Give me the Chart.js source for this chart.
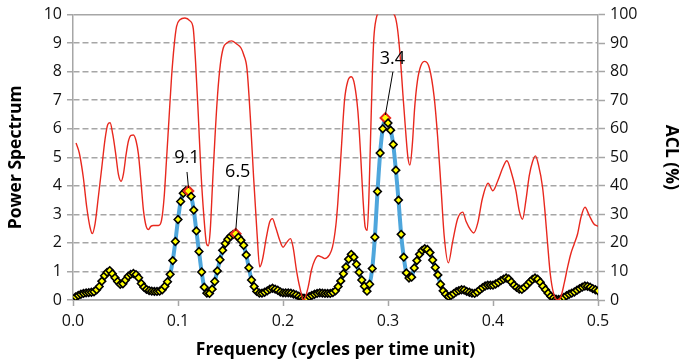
<!DOCTYPE html>
<html>
<head>
<meta charset="utf-8">
<script src="https://cdn.jsdelivr.net/npm/chart.js@4.4.1/dist/chart.umd.min.js"></script>
<style>
  html, body { margin: 0; padding: 0; background: #fff; }
  #wrap { width: 681px; height: 363px; }
</style>
</head>
<body>
<div id="wrap"><canvas id="spectrumChart" width="681" height="363"></canvas></div>
<script>
// Espectro de potência: um valor por frequência, passo de 0.0025 (1ª frequência = 0.0025)
const freqStep = 0.0025;
const powerSpectrum = [
  0.11, 0.16, 0.20, 0.23, 0.25, 0.26, 0.27, 0.29, 0.36, 0.47,
  0.66, 0.85, 0.97, 1.03, 0.92, 0.78, 0.65, 0.55, 0.57, 0.70,
  0.83, 0.90, 0.93, 0.89, 0.78, 0.58, 0.45, 0.37, 0.33, 0.31,
  0.30, 0.30, 0.31, 0.36, 0.48, 0.64, 0.90, 1.38, 2.05, 2.82,
  3.45, 3.74, 3.83, 3.82, 3.63, 3.15, 2.42, 1.70, 0.98, 0.45,
  0.24, 0.23, 0.38, 0.65, 1.02, 1.41, 1.74, 1.98, 2.13, 2.23,
  2.30, 2.32, 2.20, 2.09, 1.92, 1.58, 1.13, 0.70, 0.47, 0.30,
  0.24, 0.24, 0.27, 0.32, 0.38, 0.41, 0.38, 0.34, 0.28, 0.25,
  0.25, 0.25, 0.24, 0.21, 0.18, 0.13, 0.09, 0.06, 0.06, 0.12,
  0.16, 0.20, 0.23, 0.25, 0.24, 0.23, 0.23, 0.23, 0.26, 0.32,
  0.47, 0.67, 0.92, 1.16, 1.43, 1.60, 1.50, 1.25, 0.97, 0.70,
  0.48, 0.31, 0.55, 1.10, 2.20, 3.80, 5.15, 6.00, 6.38, 6.20,
  5.95, 5.45, 4.55, 3.50, 2.30, 1.50, 0.95, 0.77, 0.80, 1.12,
  1.38, 1.60, 1.74, 1.80, 1.77, 1.66, 1.40, 1.14, 0.88, 0.55,
  0.32, 0.20, 0.12, 0.16, 0.22, 0.29, 0.33, 0.36, 0.35, 0.30,
  0.27, 0.24, 0.23, 0.28, 0.36, 0.43, 0.49, 0.52, 0.52, 0.52,
  0.56, 0.61, 0.68, 0.73, 0.77, 0.74, 0.63, 0.52, 0.44, 0.38,
  0.37, 0.44, 0.53, 0.63, 0.72, 0.77, 0.73, 0.62, 0.48, 0.36,
  0.24, 0.13, 0.07, 0.03, 0.02, 0.04, 0.09, 0.15, 0.20, 0.24,
  0.28, 0.34, 0.40, 0.45, 0.49, 0.48, 0.45, 0.40, 0.36, 0.32
];

const aclFreq = [
  0.0029, 0.0060, 0.0098, 0.0131, 0.0162, 0.0184, 0.0210, 0.0241, 0.0274, 0.0305,
  0.0331, 0.0353, 0.0379, 0.0407, 0.0432, 0.0458, 0.0480, 0.0506, 0.0528, 0.0553,
  0.0575, 0.0601, 0.0623, 0.0649, 0.0671, 0.0697, 0.0719, 0.0741, 0.0766, 0.0814,
  0.0843, 0.0868, 0.0890, 0.0913, 0.0938, 0.0964, 0.0986, 0.1018, 0.1066, 0.1114,
  0.1145, 0.1167, 0.1193, 0.1218, 0.1247, 0.1272, 0.1288, 0.1307, 0.1329, 0.1352,
  0.1377, 0.1403, 0.1431, 0.1463, 0.1510, 0.1558, 0.1600, 0.1625, 0.1657, 0.1689,
  0.1720, 0.1753, 0.1778, 0.1803, 0.1842, 0.1873, 0.1899, 0.1930, 0.1968, 0.2001,
  0.2032, 0.2071, 0.2096, 0.2128, 0.2159, 0.2197, 0.2240, 0.2271, 0.2302, 0.2335,
  0.2366, 0.2398, 0.2440, 0.2471, 0.2503, 0.2522, 0.2554, 0.2586, 0.2617, 0.2650,
  0.2681, 0.2713, 0.2739, 0.2761, 0.2783, 0.2802, 0.2818, 0.2834, 0.2850, 0.2865,
  0.2888, 0.2910, 0.2975, 0.3047, 0.3073, 0.3094, 0.3120, 0.3142, 0.3168, 0.3190,
  0.3209, 0.3232, 0.3254, 0.3280, 0.3311, 0.3350, 0.3394, 0.3440, 0.3473, 0.3504,
  0.3535, 0.3575, 0.3615, 0.3663, 0.3712, 0.3743, 0.3788, 0.3817, 0.3855, 0.3898,
  0.3953, 0.3998, 0.4046, 0.4094, 0.4132, 0.4172, 0.4218, 0.4249, 0.4281, 0.4313,
  0.4345, 0.4377, 0.4404, 0.4432, 0.4472, 0.4494, 0.4520, 0.4545, 0.4577, 0.4615,
  0.4647, 0.4678, 0.4711, 0.4742, 0.4774, 0.4806, 0.4838, 0.4876, 0.4917, 0.4959,
  0.5000
];
const aclPct = [
  55.0, 51.5, 43.0, 32.5, 25.5, 23.3, 26.7, 36.0, 46.4, 56.3,
  61.5, 62.1, 58.0, 51.1, 44.1, 41.6, 44.1, 51.1, 55.7, 57.7,
  57.8, 55.7, 51.1, 40.7, 31.4, 25.8, 24.7, 25.8, 26.1, 26.1,
  27.9, 36.0, 48.8, 62.7, 77.8, 89.4, 95.8, 98.2, 98.8, 97.8,
  95.2, 83.6, 65.0, 45.3, 29.0, 19.7, 19.0, 24.4, 40.7, 56.9,
  72.0, 82.5, 88.3, 90.0, 90.8, 89.7, 88.3, 86.0, 81.0, 63.9,
  43.0, 23.2, 11.6, 13.9, 22.0, 27.3, 28.5, 25.5, 21.0, 18.5,
  20.0, 21.5, 18.5, 10.5, 4.6, 0.0, 4.6, 10.5, 13.9, 15.5,
  15.1, 14.5, 15.7, 18.5, 26.0, 34.0, 52.0, 70.0, 76.7, 78.2,
  75.5, 66.2, 51.1, 36.0, 25.5, 24.4, 36.0, 56.9, 77.8, 91.7,
  98.7, 100.5, 101.0, 100.5, 98.7, 94.0, 83.6, 72.0, 59.2, 49.9,
  47.3, 54.6, 67.4, 76.7, 81.9, 83.6, 81.3, 71.0, 57.0, 40.0,
  22.5, 13.0, 20.3, 28.5, 30.8, 27.6, 24.5, 23.5, 27.0, 35.4,
  40.9, 38.3, 41.8, 46.4, 48.8, 45.0, 38.3, 31.4, 28.3, 34.8,
  43.5, 48.5, 50.5, 47.5, 39.5, 31.4, 19.7, 9.3, 2.3, 0.0,
  1.2, 5.8, 11.6, 16.3, 19.7, 23.2, 29.0, 32.5, 29.6, 26.7,
  25.8
];

// picos anotados (índice no espectro) e período correspondente
const peakIndex = [43, 61, 118];
const peakLabels = ['9.1', '6.5', '3.4'];

// marcas dos eixos
const xTicks = [0, 0.1, 0.2, 0.3, 0.4, 0.5];
const powerTicks = [0, 1, 2, 3, 4, 5, 6, 7, 8, 9, 10];
const aclTicks = [0, 10, 20, 30, 40, 50, 60, 70, 80, 90, 100];

// posição do texto / linha de chamada em relação ao ponto do pico (px)
const noteOffsets = [
  { tx: -1.5, ty: -33, lx: -1.5, ly: -19 },
  { tx: 2, ty: -62, lx: 3.5, ly: -48 },
  { tx: 7, ty: -59, lx: 7.5, ly: -46 }
];

const spectrumPoints = powerSpectrum.map((v, i) => ({ x: +(freqStep * (i + 1)).toFixed(4), y: v }));
const aclPoints = aclPct.map((v, i) => ({ x: aclFreq[i], y: v }));

const gridGray = '#a6a6a6';
const tickFont = { family: '"Open Sans", sans-serif', size: 16 };
const titleFont = { family: '"Open Sans", sans-serif', size: 17.5, weight: 'bold' };

const peakNotes = {
    id: 'peakNotes',
    afterDatasetsDraw(chart) {
        const meta = chart.getDatasetMeta(1);
        const ctx = chart.ctx;
        ctx.save();
        ctx.font = '18px "Open Sans", sans-serif';
        ctx.fillStyle = '#000';
        ctx.strokeStyle = '#000';
        ctx.lineWidth = 1;
        ctx.textAlign = 'center';
        ctx.textBaseline = 'middle';
        peakIndex.forEach((idx, k) => {
            const pt = meta.data[idx];
            const off = noteOffsets[k];
            ctx.beginPath();
            ctx.moveTo(pt.x + off.lx, pt.y + off.ly);
            ctx.lineTo(pt.x, pt.y - 3);
            ctx.stroke();
            ctx.fillText(peakLabels[k], pt.x + off.tx, pt.y + off.ty);
        });
        ctx.restore();
    }
};

const ctx = document.getElementById('spectrumChart').getContext('2d');
new Chart(ctx, {
    type: 'line',
    data: {
        datasets: [
            {
                label: 'ACL (%)',
                data: aclPoints,
                yAxisID: 'y1',
                borderColor: '#e8281e',
                borderWidth: 1.4,
                pointRadius: 0,
                cubicInterpolationMode: 'monotone',
                order: 0
            },
            {
                label: 'Power Spectrum',
                data: spectrumPoints,
                yAxisID: 'y',
                borderColor: '#4ea6dc',
                borderWidth: 4,
                tension: 0.2,
                pointStyle: 'rectRot',
                pointRadius: c => peakIndex.includes(c.dataIndex) ? 4.8 : 3.8,
                pointBackgroundColor: '#ffff00',
                pointBorderColor: c => peakIndex.includes(c.dataIndex) ? '#e8281e' : '#000',
                pointBorderWidth: c => peakIndex.includes(c.dataIndex) ? 2 : 1.6,
                order: 1
            }
        ]
    },
    options: {
        responsive: false,
        animation: false,
        layout: { padding: { top: 13, left: 0, right: 0, bottom: 0 } },
        plugins: {
            legend: { display: false },
            tooltip: { enabled: false }
        },
        scales: {
            x: {
                type: 'linear',
                min: 0,
                max: 0.5,
                afterBuildTicks: s => { s.ticks = xTicks.map(v => ({ value: v })); },
                afterFit: s => { s.height = 63; },
                ticks: {
                    font: tickFont,
                    color: '#111',
                    padding: 6,
                    callback: v => v.toFixed(1)
                },
                grid: {
                    drawOnChartArea: false,
                    drawTicks: true,
                    tickLength: 6,
                    tickColor: gridGray,
                    tickWidth: 1.5
                },
                border: { color: gridGray, width: 1.5 },
                title: {
                    display: true,
                    text: 'Frequency (cycles per time unit)',
                    font: titleFont,
                    color: '#000',
                    padding: { top: 0, bottom: 2 }
                }
            },
            y: {
                position: 'left',
                min: 0,
                max: 10,
                afterBuildTicks: s => { s.ticks = powerTicks.map(v => ({ value: v })); },
                afterFit: s => { s.width = 73; },
                ticks: { font: tickFont, color: '#111', padding: 5 },
                grid: {
                    color: gridGray,
                    lineWidth: 1.5,
                    tickLength: 6,
                    tickColor: gridGray,
                    tickBorderDash: []
                },
                border: {
                    color: gridGray,
                    width: 1.5,
                    dash: c => (c.tick && (c.tick.value === 10 || c.tick.value === 0)) ? [] : [6, 3]
                },
                title: {
                    display: true,
                    text: 'Power Spectrum',
                    font: titleFont,
                    color: '#000',
                    padding: { top: 6, bottom: 0 }
                }
            },
            y1: {
                position: 'right',
                min: 0,
                max: 100,
                afterBuildTicks: s => { s.ticks = aclTicks.map(v => ({ value: v })); },
                afterFit: s => { s.width = 83; },
                ticks: { font: tickFont, color: '#111', padding: 5 },
                grid: {
                    drawOnChartArea: false,
                    tickLength: 7,
                    tickColor: gridGray,
                    tickWidth: 1.5
                },
                border: { color: gridGray, width: 1.5 },
                title: {
                    display: true,
                    text: 'ACL (%)',
                    font: titleFont,
                    color: '#000',
                    padding: { top: 0, bottom: 0 }
                }
            }
        }
    },
    plugins: [peakNotes]
});
</script>
</body>
</html>
